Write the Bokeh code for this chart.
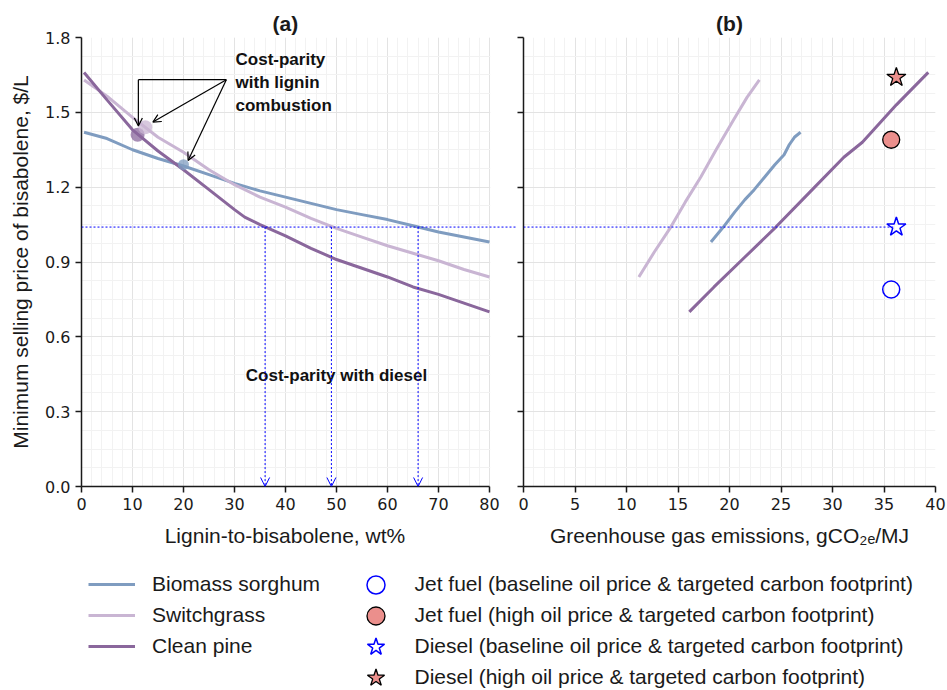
import numpy as np
from bokeh.plotting import figure
from bokeh.models import (Range1d, Arrow, OpenHead, Legend, LegendItem,
                          PrintfTickFormatter, FixedTicker, ColumnDataSource,
                          BoxAnnotation, Title)
from bokeh.layouts import column, row
from bokeh.embed import file_html
from bokeh.resources import INLINE
from bokeh.core.properties import value

# ---------------- data ----------------
# Panel (a): MSP vs lignin-to-bisabolene ratio (wt%)
sorghum_ratio = [0.5, 5, 10, 15, 20, 25, 30, 35, 40, 45, 50, 55, 60, 65, 70, 75, 80]
sorghum_msp = [1.42, 1.395, 1.35, 1.315, 1.285, 1.25, 1.215, 1.185, 1.16, 1.135,
               1.11, 1.09, 1.07, 1.045, 1.02, 1.00, 0.98]
switch_ratio = [0.5, 5, 10, 15, 20, 25, 30, 35, 40, 45, 50, 55, 60, 65, 70, 75, 80]
switch_msp = [1.63, 1.565, 1.48, 1.40, 1.34, 1.27, 1.21, 1.16, 1.12, 1.075,
              1.035, 1.0, 0.965, 0.935, 0.905, 0.87, 0.84]
pine_ratio = [0.5, 5, 10, 15, 20, 25, 30, 32, 35, 40, 45, 50, 55, 60, 65, 70, 75, 80]
pine_msp = [1.66, 1.55, 1.43, 1.345, 1.27, 1.19, 1.11, 1.08, 1.05, 1.005, 0.955,
            0.91, 0.875, 0.84, 0.80, 0.77, 0.735, 0.70]

# cost-parity with lignin combustion points
lignin_parity_x = [11, 12.5, 20]
lignin_parity_y = [1.41, 1.44, 1.29]

# cost-parity with diesel
diesel_price = 1.04
diesel_parity_ratio = [36, 49, 66]

# Panel (b): MSP vs GHG emissions
switch_ghg = [11.2, 12.7, 14.3, 15.7, 17.2, 18.7, 20.4, 21.7, 22.9]
switch_msp_b = [0.84, 0.94, 1.04, 1.14, 1.24, 1.35, 1.47, 1.56, 1.63]
sorghum_ghg = [18.2, 19.4, 20.5, 21.5, 22.4, 23.4, 24.4, 25.3, 25.8, 26.3, 26.9]
sorghum_msp_b = [0.98, 1.04, 1.10, 1.15, 1.19, 1.24, 1.29, 1.33, 1.37, 1.40, 1.42]
pine_ghg = [16.1, 18.5, 21.5, 24.5, 27.8, 31.1, 32.9, 36.2, 39.3]
pine_msp_b = [0.70, 0.80, 0.92, 1.04, 1.18, 1.32, 1.38, 1.53, 1.66]

jet_base = (35.7, 0.79)
jet_high = (35.7, 1.39)
diesel_base = (36.2, 1.04)
diesel_high = (36.2, 1.64)

x_ticks_a = [0, 10, 20, 30, 40, 50, 60, 70, 80]
x_ticks_b = [0, 5, 10, 15, 20, 25, 30, 35, 40]
y_ticks = [0.0, 0.3, 0.6, 0.9, 1.2, 1.5, 1.8]

# ---------------- styles ----------------
C_SORGHUM = "#7f9cc0"
C_SWITCH = "#c9b5d3"
C_PINE = "#8a679c"
C_SALMON = "#eb8f8c"
C_DOT = "#0000ff"
TICK_FONT = "DejaVu Sans"
LABEL_FONT = "Liberation Sans"
DOT_DASH = "2 2"
NBSP = "\u00a0"


def make_title(text, align="center", offset=0):
    return Title(text=text, align=align, offset=offset, text_font=LABEL_FONT,
                 text_font_size="21px", text_font_style="bold",
                 text_color="#1a1a1a", standoff=6)


def style(p):
    p.outline_line_color = None
    for ax in p.axis:
        ax.axis_line_width = 1.5
        ax.axis_line_color = "#1a1a1a"
        ax.major_tick_line_width = 1.5
        ax.major_tick_line_color = "#1a1a1a"
        ax.major_tick_out = 6
        ax.major_tick_in = 0
        ax.minor_tick_out = 0
        ax.minor_tick_in = 0
        ax.major_label_text_font = TICK_FONT
        ax.major_label_text_font_size = "16px"
        ax.major_label_text_color = "#1a1a1a"
        ax.axis_label_text_font = LABEL_FONT
        ax.axis_label_text_font_size = "21px"
        ax.axis_label_text_font_style = "normal"
        ax.axis_label_text_color = "#1a1a1a"
    p.xaxis.axis_label_standoff = 11
    p.yaxis.ticker = FixedTicker(ticks=y_ticks,
                                 minor_ticks=list(np.round(np.arange(0, 1.8001, 0.075), 4)))
    p.yaxis.formatter = PrintfTickFormatter(format="%.1f")
    for g in p.grid:
        g.grid_line_color = "#e3e3e3"
        g.grid_line_width = 1
        g.minor_grid_line_color = "#f2f2f2"
        g.minor_grid_line_width = 1


common = dict(height=570, output_backend="svg", toolbar_location=None,
              min_border_top=37, min_border_bottom=84,
              y_range=Range1d(0, 1.8))

# ---------------- panel (a) ----------------
# frame spans 81..517 px; data 0..80 occupies 81..489, the rest is the gap
A_LEFT, A_RIGHT_DATA, A_RIGHT_FRAME = 81, 489, 517
a_end = 80 * (A_RIGHT_FRAME - A_LEFT) / (A_RIGHT_DATA - A_LEFT)
pa = figure(width=A_RIGHT_FRAME, x_range=Range1d(0, a_end), min_border_left=A_LEFT,
            min_border_right=0, title=make_title("(a)", "left", 191), **common)
pa.xaxis.ticker = FixedTicker(ticks=x_ticks_a, minor_ticks=list(range(0, 81, 2)))
pa.xaxis.bounds = (0, 80)
# trailing no-break spaces keep the label centred under the 0..80 axis
pa.xaxis.axis_label = "Lignin-to-bisabolene, wt%" + NBSP * 5
pa.yaxis.axis_label = "Minimum selling price of bisabolene, $/L"
style(pa)
pa.yaxis.axis_label_standoff = 10

pa.line(sorghum_ratio, sorghum_msp, line_color=C_SORGHUM, line_width=3)
pa.line(switch_ratio, switch_msp, line_color=C_SWITCH, line_width=3)
pa.line(pine_ratio, pine_msp, line_color=C_PINE, line_width=3)

pa.scatter(lignin_parity_x, lignin_parity_y, size=[14, 14, 11],
           fill_color=[C_PINE, C_SWITCH, C_SORGHUM], fill_alpha=0.75,
           line_color=None)

# blank out the gap between the panels (grid lines)
pa.add_layout(BoxAnnotation(left=80.15, fill_color="white", fill_alpha=1.0,
                            line_color=None))

# dotted diesel cost-parity lines
pa.add_layout(Arrow(end=None, x_start=0, y_start=diesel_price, x_end=a_end,
                    y_end=diesel_price, line_color=C_DOT, line_width=1,
                    line_dash=DOT_DASH))
vsrc = ColumnDataSource(dict(x=diesel_parity_ratio,
                             y0=[diesel_price] * 3, y1=[0] * 3))
pa.add_layout(Arrow(end=OpenHead(size=9, line_color=C_DOT, line_width=1),
                    x_start="x", y_start="y0", x_end="x", y_end="y1",
                    source=vsrc, line_color=C_DOT, line_width=1,
                    line_dash=DOT_DASH))

# lignin combustion annotation arrows
ann_origin = (28.4, 1.631)
pa.add_layout(Arrow(end=None, x_start=ann_origin[0], y_start=ann_origin[1],
                    x_end=11.15, y_end=ann_origin[1], line_color="black",
                    line_width=1.2))
asrc = ColumnDataSource(dict(xs=[11.15, ann_origin[0], ann_origin[0]],
                             ys=[ann_origin[1], ann_origin[1], ann_origin[1]],
                             xe=[11.15, 14.0, 20.9],
                             ye=[1.445, 1.461, 1.307]))
pa.add_layout(Arrow(end=OpenHead(size=8, line_color="black", line_width=1.2),
                    x_start="xs", y_start="ys", x_end="xe", y_end="ye",
                    source=asrc, line_color="black", line_width=1.2))

pa.text(x=[30.2], y=[1.75], text=["Cost-parity\nwith lignin\ncombustion"],
        text_font=value(LABEL_FONT), text_font_size="17px",
        text_font_style="bold", text_align="left", text_baseline="top",
        text_line_height=1.2, text_color="#111111")
pa.text(x=[50], y=[0.445], text=["Cost-parity with diesel"],
        text_font=value(LABEL_FONT), text_font_size="17px",
        text_font_style="bold", text_align="center", text_baseline="middle",
        text_color="#111111")

# ---------------- panel (b) ----------------
pb = figure(width=947 - A_RIGHT_FRAME, x_range=Range1d(0, 40), min_border_left=6,
            min_border_right=12, title=make_title("(b)"), **common)
pb.xaxis.ticker = FixedTicker(ticks=x_ticks_b, minor_ticks=list(range(0, 41, 1)))
pb.xaxis.axis_label = "Greenhouse gas emissions, gCO\u2082\u2091/MJ"
style(pb)
pb.yaxis.major_label_overrides = {t: "" for t in y_ticks}
pb.yaxis.major_label_standoff = 0

pb.add_layout(Arrow(end=None, x_start=0, y_start=diesel_price,
                    x_end=diesel_base[0] - 0.3, y_end=diesel_price,
                    line_color=C_DOT, line_width=1, line_dash=DOT_DASH))

pb.line(switch_ghg, switch_msp_b, line_color=C_SWITCH, line_width=3)
pb.line(sorghum_ghg, sorghum_msp_b, line_color=C_SORGHUM, line_width=3)
pb.line(pine_ghg, pine_msp_b, line_color=C_PINE, line_width=3)

pb.scatter([jet_base[0]], [jet_base[1]], marker="circle", size=17,
           fill_color=None, line_color=C_DOT, line_width=1.5)
pb.scatter([jet_high[0]], [jet_high[1]], marker="circle", size=17,
           fill_color=C_SALMON, line_color="black", line_width=1.3)
pb.scatter([diesel_base[0]], [diesel_base[1]], marker="star", size=20,
           fill_color=None, line_color=C_DOT, line_width=1.5)
pb.scatter([diesel_high[0]], [diesel_high[1]], marker="star", size=20,
           fill_color=C_SALMON, line_color="black", line_width=1.3)

# ---------------- legend strip ----------------
pl = figure(width=947, height=120, output_backend="svg", toolbar_location=None,
            x_range=Range1d(-100, -99), y_range=Range1d(-100, -99),
            x_axis_type=None, y_axis_type=None, min_border=0)
pl.outline_line_color = None
pl.grid.visible = False

l1 = pl.line(sorghum_ratio, sorghum_msp, line_color=C_SORGHUM, line_width=3)
l2 = pl.line(switch_ratio, switch_msp, line_color=C_SWITCH, line_width=3)
l3 = pl.line(pine_ratio, pine_msp, line_color=C_PINE, line_width=3)
m1 = pl.scatter([jet_base[0]], [jet_base[1]], marker="circle",
                fill_color=None, line_color=C_DOT, line_width=1.5)
m2 = pl.scatter([jet_high[0]], [jet_high[1]], marker="circle",
                fill_color=C_SALMON, line_color="black", line_width=1.3)
m3 = pl.scatter([diesel_base[0]], [diesel_base[1]], marker="star",
                fill_color=None, line_color=C_DOT, line_width=1.5)
m4 = pl.scatter([diesel_high[0]], [diesel_high[1]], marker="star",
                fill_color=C_SALMON, line_color="black", line_width=1.3)

leg_common = dict(padding=0, margin=0, border_line_color=None,
                  background_fill_alpha=0, label_text_font=LABEL_FONT,
                  label_text_font_size="21px", label_text_color="#1a1a1a",
                  orientation="vertical")
pl.add_layout(Legend(items=[LegendItem(label="Biomass sorghum", renderers=[l1]),
                            LegendItem(label="Switchgrass", renderers=[l2]),
                            LegendItem(label="Clean pine", renderers=[l3])],
                     location=(88, 30), glyph_width=47, glyph_height=28,
                     label_height=28, spacing=3, label_standoff=17, **leg_common))

marker_labels = ["Jet fuel (baseline oil price & targeted carbon footprint)",
                 "Jet fuel (high oil price & targeted carbon footprint)",
                 "Diesel (baseline oil price & targeted carbon footprint)",
                 "Diesel (high oil price & targeted carbon footprint)"]
marker_rows_bottom = [83.5, 52.5, 21.5, -9.5]
for lab, rend, yb in zip(marker_labels, [m1, m2, m3, m4], marker_rows_bottom):
    pl.add_layout(Legend(items=[LegendItem(label=lab, renderers=[rend])],
                         location=(352.5, yb), glyph_width=45, glyph_height=45,
                         label_height=28, spacing=0, label_standoff=17,
                         **leg_common))

layout = column(row(pa, pb), pl)
open("out.html", "w").write(file_html(layout, INLINE))
